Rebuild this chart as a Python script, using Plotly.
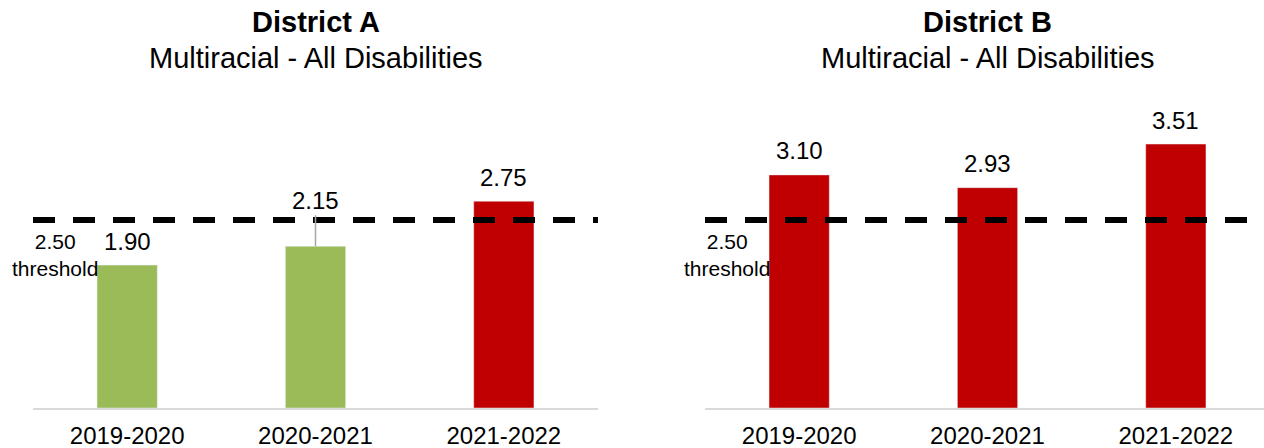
import plotly.graph_objects as go

years = ["2019-2020", "2020-2021", "2021-2022"]
district_a = [1.90, 2.15, 2.75]
district_b = [3.10, 2.93, 3.51]
threshold = 2.50
titles = ["District A", "District B"]
subtitle = "Multiracial - All Disabilities"

GREEN = "#9BBB59"
RED = "#C00000"
FONT = "Liberation Sans, Arial, sans-serif"

W, H = 1264, 448
TOP = 100
BASE = 408
BOT = H - BASE
L0, L1 = 33, 598
R0 = 705
px_per_cat = (L1 - L0) / 3.0

def col(v):
    return RED if v > threshold else GREEN

fig = go.Figure()
fig.add_trace(go.Bar(x=years, y=district_a, marker_color=[col(v) for v in district_a],
                     width=0.32, xaxis="x", yaxis="y", hoverinfo="skip"))
fig.add_trace(go.Bar(x=years, y=district_b, marker_color=[col(v) for v in district_b],
                     width=0.32, xaxis="x2", yaxis="y2", hoverinfo="skip"))

plot_h = BASE - TOP
ymax = plot_h / (188 / threshold)

annotations = []
shapes = []
for i, (vals, xr, yr) in enumerate([(district_a, "x", "y"), (district_b, "x2", "y2")]):
    annotations.append(dict(text="<b>" + titles[i] + "</b>", xref=xr, yref="paper", x=1, y=1,
                            yshift=78, showarrow=False, yanchor="middle",
                            font=dict(size=29, color="#000000", family=FONT)))
    annotations.append(dict(text=subtitle, xref=xr, yref="paper", x=1, y=1,
                            yshift=42, showarrow=False, yanchor="middle",
                            font=dict(size=29, color="#000000", family=FONT)))
    for j, v in enumerate(vals):
        if i == 0 and j == 1:
            annotations.append(dict(text=f"{v:.2f}", xref=xr, yref=yr, x=years[j], y=v,
                                    showarrow=True, arrowhead=0, arrowwidth=1.5,
                                    arrowcolor="#A6A6A6", ax=0, ay=-46, standoff=0,
                                    font=dict(size=24, color="#000000", family=FONT)))
        else:
            annotations.append(dict(text=f"{v:.2f}", xref=xr, yref=yr, x=years[j], y=v,
                                    showarrow=False, yanchor="middle", yshift=24,
                                    font=dict(size=24, color="#000000", family=FONT)))
    annotations.append(dict(text=f"{threshold:.2f}<br>threshold", xref=xr + " domain", yref=yr,
                            x=0, y=threshold, xshift=22, yshift=-35, showarrow=False,
                            xanchor="center", yanchor="middle", align="center",
                            font=dict(size=21, color="#000000", family=FONT)))
    shapes.append(dict(type="line", xref=xr + " domain", yref=yr, x0=0, x1=1,
                       y0=threshold, y1=threshold, layer="above",
                       line=dict(color="#000000", width=6, dash="22px,18px")))

right_range_end = -0.5 + (W - R0) / px_per_cat

axis_common = dict(showgrid=False, zeroline=False, showline=True, linecolor="#D9D9D9",
                   linewidth=1.5, ticks="", automargin=False, fixedrange=True,
                   ticklabelstandoff=5,
                   tickfont=dict(size=24, color="#000000", family=FONT))
yaxis_common = dict(visible=False, range=[0, ymax], fixedrange=True, automargin=False)

fig.update_layout(
    width=W, height=H,
    margin=dict(l=0, r=0, t=TOP, b=BOT),
    paper_bgcolor="#FFFFFF", plot_bgcolor="#FFFFFF",
    showlegend=False,
    font=dict(family=FONT, color="#000000"),
    xaxis=dict(domain=[L0 / W, L1 / W], range=[-0.5, 2.5], anchor="y", **axis_common),
    xaxis2=dict(domain=[R0 / W, 1.0], range=[-0.5, right_range_end], anchor="y2", **axis_common),
    yaxis=dict(anchor="x", **yaxis_common),
    yaxis2=dict(anchor="x2", **yaxis_common),
    annotations=annotations,
    shapes=shapes,
)

fig.write_html("out.html", config={"displayModeBar": False},
               post_script="document.body.style.margin='0px';document.body.style.overflow='hidden';")
